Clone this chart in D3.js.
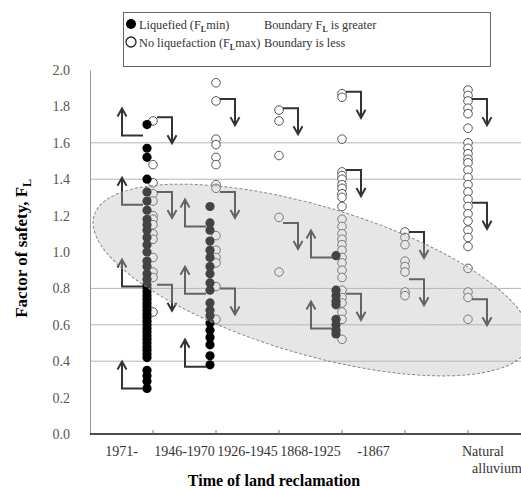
<!DOCTYPE html>
<html>
<head>
<meta charset="utf-8">
<script src="https://cdn.jsdelivr.net/npm/d3@7"></script>
<style>
  body { margin: 0; background: #fff; }
</style>
</head>
<body>
<div id="chart"></div>
<script>
// categories along the x axis
const categories = ["1971-", "1946-1970", "1926-1945", "1868-1925", "-1867", "Natural alluvium"];

// liquefied sites (FL min), filled circles
const liquefied = {
  "1971-": [1.70, 1.57, 1.52, 1.40, 1.33, 1.28, 1.23, 1.18, 1.15, 1.12, 1.08, 1.04, 1.00, 0.95, 0.92, 0.88,
            0.85, 0.82, 0.80, 0.78, 0.76, 0.74, 0.72, 0.70, 0.68, 0.66, 0.64, 0.62, 0.60, 0.58, 0.56, 0.54,
            0.52, 0.50, 0.48, 0.46, 0.44, 0.42, 0.35, 0.32, 0.29, 0.25],
  "1946-1970": [1.25, 1.16, 1.12, 1.06, 1.01, 0.97, 0.92, 0.88, 0.83, 0.79, 0.72, 0.68, 0.65, 0.61, 0.57,
                0.53, 0.49, 0.43, 0.38],
  "1926-1945": [],
  "1868-1925": [0.98, 0.79, 0.76, 0.73, 0.71, 0.63, 0.60, 0.57, 0.55],
  "-1867": [],
  "Natural alluvium": []
};

// non-liquefied sites (FL max), open circles
const noLiquefaction = {
  "1971-": [1.72, 1.48, 1.38, 1.32, 1.28, 1.20, 1.18, 1.15, 1.10, 1.07, 0.97, 0.89, 0.86, 0.67],
  "1946-1970": [1.93, 1.83, 1.62, 1.59, 1.52, 1.48, 1.37, 1.35, 1.09, 1.01, 0.97, 0.94, 0.81, 0.63],
  "1926-1945": [1.78, 1.72, 1.53, 1.19, 0.89],
  "1868-1925": [1.87, 1.85, 1.62, 1.44, 1.42, 1.40, 1.37, 1.35, 1.32, 1.30, 1.25, 1.18, 1.14, 1.10, 1.07,
                1.04, 1.01, 0.97, 0.94, 0.90, 0.86, 0.79, 0.75, 0.72, 0.67, 0.63, 0.52],
  "-1867": [1.11, 1.08, 1.04, 0.95, 0.92, 0.89, 0.78, 0.76],
  "Natural alluvium": [1.89, 1.86, 1.83, 1.79, 1.76, 1.68, 1.60, 1.57, 1.54, 1.51, 1.49, 1.45, 1.41, 1.37,
                       1.33, 1.29, 1.25, 1.21, 1.17, 1.12, 1.08, 1.03, 0.91, 0.78, 0.75, 0.63]
};

// boundary arrows: up = boundary FL is greater, down = boundary is less
const upArrows = [
  ["1971-", 1.64], ["1971-", 1.26], ["1971-", 0.81], ["1971-", 0.25],
  ["1946-1970", 1.14], ["1946-1970", 0.77], ["1946-1970", 0.37],
  ["1868-1925", 0.97], ["1868-1925", 0.58]
];
const downArrows = [
  ["1971-", 1.74], ["1971-", 1.33], ["1971-", 0.82],
  ["1946-1970", 1.84], ["1946-1970", 1.33], ["1946-1970", 0.80],
  ["1926-1945", 1.79], ["1926-1945", 1.16],
  ["1868-1925", 1.88], ["1868-1925", 1.45], ["1868-1925", 0.77],
  ["-1867", 1.11], ["-1867", 0.85],
  ["Natural alluvium", 1.84], ["Natural alluvium", 1.27], ["Natural alluvium", 0.74]
];

const yTicks = [0, 0.2, 0.4, 0.6, 0.8, 1.0, 1.2, 1.4, 1.6, 1.8, 2.0];
const gridValues = [0.4, 0.6, 0.8, 1.4, 1.6];

// shaded zone: centre in category index / FL units
const zone = { cat: 2.52, fl: 0.846, rx: 227, ry: 74, angle: 16.5 };

const serif = '"Liberation Serif", "Times New Roman", Times, "DejaVu Serif", serif';
const width = 521, height = 488;
const margin = { top: 70, right: 0, bottom: 54, left: 90 };

const svg = d3.select("#chart").append("svg")
  .attr("width", width)
  .attr("height", height)
  .attr("font-family", serif);

const x = d3.scaleBand().domain(categories).range([90, 468]).paddingInner(0).paddingOuter(0);
const y = d3.scaleLinear().domain([0, 2]).range([height - margin.bottom, margin.top]);
const tickX = c => x(c) + x.bandwidth();
const catIndex = d3.scaleLinear().domain([0, 1]).range([tickX(categories[0]), tickX(categories[1])]);

// grid lines
svg.append("g").selectAll("line")
  .data(gridValues)
  .enter().append("line")
  .attr("x1", margin.left).attr("x2", width)
  .attr("y1", d => y(d)).attr("y2", d => y(d))
  .style("stroke", "#b5b5b5")
  .style("stroke-width", 1);

// y axis
const yAxis = svg.append("g")
  .attr("transform", `translate(${margin.left},0)`)
  .call(d3.axisLeft(y).tickValues(yTicks).tickFormat(d3.format(".1f")).tickSize(0).tickPadding(20));
yAxis.select(".domain").style("stroke", "#999");
yAxis.selectAll("text")
  .style("font-size", "14px")
  .style("fill", "#555");

// x axis
const xAxis = svg.append("g")
  .attr("transform", `translate(0,${y(0)})`);
xAxis.append("line")
  .attr("x1", margin.left).attr("x2", width)
  .attr("y1", 0).attr("y2", 0)
  .style("stroke", "#111").style("stroke-width", 1.5);
xAxis.selectAll(".tick")
  .data(categories)
  .enter().append("line")
  .attr("x1", d => tickX(d)).attr("x2", d => tickX(d))
  .attr("y1", 0).attr("y2", -4)
  .style("stroke", "#777");
xAxis.selectAll(".lbl")
  .data(categories)
  .enter().append("text")
  .attr("class", "lbl")
  .attr("text-anchor", "middle")
  .style("font-size", "14px")
  .style("fill", "#333")
  .each(function (d, i) {
    const t = d3.select(this);
    if (i === categories.length - 1) {
      const parts = d.split(" ");
      t.append("tspan").attr("x", tickX(d) + 15).attr("y", 22).text(parts[0]);
      t.append("tspan").attr("x", tickX(d) + 29).attr("y", 39).text(parts[1]);
    } else {
      t.attr("x", x(d) + x.bandwidth() / 2).attr("y", 22).text(d);
    }
  });

// axis titles
svg.append("text")
  .attr("x", 274).attr("y", 486)
  .attr("text-anchor", "middle")
  .style("font-size", "16px").style("font-weight", "bold")
  .text("Time of land reclamation");

const yTitle = svg.append("text")
  .attr("transform", `translate(27,${y(1.02)}) rotate(-90)`)
  .attr("text-anchor", "middle")
  .style("font-size", "17px").style("font-weight", "bold");
yTitle.append("tspan").text("Factor of safety, F");
yTitle.append("tspan").attr("dy", 4).style("font-size", "12px").text("L");

// points
const filledPts = [], openPts = [];
categories.forEach(c => {
  liquefied[c].forEach(v => filledPts.push({ c, v }));
  noLiquefaction[c].forEach(v => openPts.push({ c, v }));
});

svg.append("g").selectAll("circle")
  .data(openPts)
  .enter().append("circle")
  .attr("cx", d => tickX(d.c))
  .attr("cy", d => y(d.v))
  .attr("r", 4.3)
  .style("fill", "#fff")
  .style("stroke", "#555")
  .style("stroke-width", 1);

svg.append("g").selectAll("circle")
  .data(filledPts)
  .enter().append("circle")
  .attr("cx", d => tickX(d.c) - 6)
  .attr("cy", d => y(d.v))
  .attr("r", 4.6)
  .style("fill", "#000");

// arrows
const arrows = svg.append("g")
  .style("fill", "none")
  .style("stroke", "#333")
  .style("stroke-width", 2);

arrows.selectAll(".up")
  .data(upArrows)
  .enter().append("path")
  .attr("d", d => {
    const xf = tickX(d[0]) - 6, xv = xf - 25, yc = y(d[1]), yt = yc - 27;
    return `M${xf - 4},${yc}H${xv}V${yt}M${xv - 4.5},${yt + 8}L${xv},${yt}L${xv + 4.5},${yt + 8}`;
  });

arrows.selectAll(".down")
  .data(downArrows)
  .enter().append("path")
  .attr("d", d => {
    const xo = tickX(d[0]), xv = xo + 19, yc = y(d[1]), yt = yc + 26;
    return `M${xo + 4},${yc}H${xv}V${yt}M${xv - 4.5},${yt - 8}L${xv},${yt}L${xv + 4.5},${yt - 8}`;
  });

// stipple for the shaded zone
const defs = svg.append("defs");
const pat = defs.append("pattern")
  .attr("id", "stipple")
  .attr("width", 2).attr("height", 2)
  .attr("patternUnits", "userSpaceOnUse");
pat.append("rect").attr("width", 2).attr("height", 2).style("fill", "#c4c4c4");
pat.append("rect").attr("width", 1).attr("height", 1).style("fill", "#9a9a9a");

// shaded zone drawn over the data
svg.append("ellipse")
  .attr("transform", `translate(${catIndex(zone.cat)},${y(zone.fl)}) rotate(${zone.angle})`)
  .attr("rx", zone.rx)
  .attr("ry", zone.ry)
  .style("fill", "url(#stipple)")
  .style("fill-opacity", 0.36)
  .style("stroke", "#888")
  .style("stroke-width", 1)
  .style("stroke-dasharray", "3,2");

// legend
const legend = svg.append("g");
legend.append("rect")
  .attr("x", 123.5).attr("y", 12.5)
  .attr("width", 367).attr("height", 54)
  .style("fill", "#fff")
  .style("stroke", "#666");

legend.append("circle").attr("cx", 131).attr("cy", 24).attr("r", 5).style("fill", "#000");
legend.append("circle").attr("cx", 131).attr("cy", 42).attr("r", 5)
  .style("fill", "#fff").style("stroke", "#222").style("stroke-width", 1.3);

function legendText(xp, yp, parts) {
  const t = legend.append("text").attr("x", xp).attr("y", yp)
    .style("font-size", "12.3px").style("fill", "#333");
  parts.forEach(p => {
    const s = t.append("tspan").text(p[0]);
    if (p[1] === "sub") s.attr("dy", 3).style("font-size", "8px").style("font-weight", "bold");
    if (p[1] === "up") s.attr("dy", -3);
  });
}
legendText(139, 29, [["Liquefied (F"], ["L", "sub"], ["min)", "up"]]);
legendText(139, 47, [["No liquefaction (F"], ["L", "sub"], ["max)", "up"]]);
legendText(264, 29, [["Boundary F"], ["L", "sub"], [" is greater", "up"]]);
legendText(264, 47, [["Boundary is less"]]);

svg.selectAll("text").style("font-family", serif);
</script>
</body>
</html>
